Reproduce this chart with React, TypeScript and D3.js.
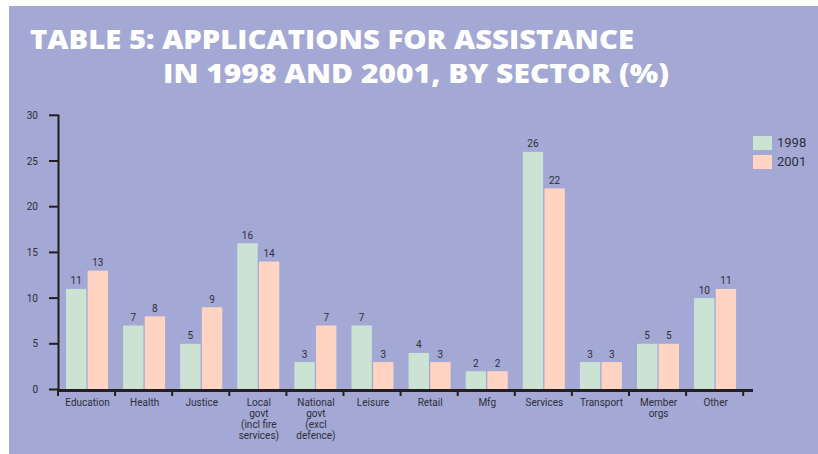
import React from "react";
import * as d3 from "d3";

const categories = [
  ["Education"],
  ["Health"],
  ["Justice"],
  ["Local", "govt", "(incl fire", "services)"],
  ["National", "govt", "(excl", "defence)"],
  ["Leisure"],
  ["Retail"],
  ["Mfg"],
  ["Services"],
  ["Transport"],
  ["Member", "orgs"],
  ["Other"],
];
const seriesNames = ["1998", "2001"];
const values1998 = [11, 7, 5, 16, 3, 7, 4, 2, 26, 3, 5, 10];
const values2001 = [13, 8, 9, 14, 7, 3, 3, 2, 22, 3, 5, 11];
const yTicks = [0, 5, 10, 15, 20, 25, 30];
const titleLines = ["TABLE 5: APPLICATIONS FOR ASSISTANCE", "IN 1998 AND 2001, BY SECTOR (%)"];

const BG = "#a3a8d5";
const GREEN = "#cce3d4";
const PEACH = "#ffd4c2";
const AXIS = "#231f20";
const TEXT = "#2e2e38";
const FONT = "Roboto, 'Open Sans', sans-serif";

export default function App() {
  const W = 818, H = 454;
  const keys = categories.map((c) => c.join(" "));
  const x = d3.scaleBand<string>().domain(keys).range([58, 58 + 12 * 57.1]).paddingInner(0).paddingOuter(0);
  const xs = d3.scaleBand<string>().domain(seriesNames).range([8, 50]).paddingInner(0.06);
  const y = d3.scaleLinear().domain([0, 30]).range([389.5, 115.3]);
  const colors = [GREEN, PEACH];
  const series = [values1998, values2001];
  const bw = x.bandwidth();

  return (
    <svg width={W} height={H} style={{ display: "block", position: "absolute", left: 0, top: 0 }}>
      <rect x={0} y={0} width={W} height={H} fill="#ffffff" />
      <rect x={9} y={6} width={W - 9} height={H - 6} fill={BG} />
      {/* title */}
      <text x={30} y={49} fill="#fff" fontFamily="'Open Sans', sans-serif" fontWeight={800} fontSize={27}
        textLength={604} lengthAdjust="spacingAndGlyphs">{titleLines[0]}</text>
      <text x={163} y={83} fill="#fff" fontFamily="'Open Sans', sans-serif" fontWeight={800} fontSize={27}
        textLength={506} lengthAdjust="spacingAndGlyphs">{titleLines[1]}</text>

      {/* bars */}
      {series.map((vals, si) =>
        vals.map((v, i) => {
          const bx = (x(keys[i]) as number) + (xs(seriesNames[si]) as number);
          return (
            <g key={`${si}-${i}`}>
              <rect x={bx} y={y(v)} width={xs.bandwidth()} height={y(0) - y(v)} fill={colors[si]} />
              <text x={bx + xs.bandwidth() / 2} y={y(v) - 4.5} textAnchor="middle" fontFamily={FONT}
                fontSize={10} fill={TEXT}>{v}</text>
            </g>
          );
        })
      )}

      {/* y axis */}
      <line x1={58.5} x2={58.5} y1={114.5} y2={391} stroke={AXIS} strokeWidth={2} />
      {yTicks.map((t) => (
        <g key={t}>
          <line x1={49} x2={58} y1={y(t)} y2={y(t)} stroke={AXIS} strokeWidth={2} />
          <text x={38} y={y(t) + 3.5} textAnchor="end" fontFamily={FONT} fontSize={10} fill={TEXT}>{t}</text>
        </g>
      ))}

      {/* x axis */}
      <line x1={57.5} x2={753} y1={390.5} y2={390.5} stroke={AXIS} strokeWidth={3} />
      {d3.range(13).map((i) => {
        const tx = 58 + i * bw;
        return <line key={i} x1={tx} x2={tx} y1={390} y2={396} stroke={AXIS} strokeWidth={2} />;
      })}
      {categories.map((lines, i) => (
        <text key={i} textAnchor="middle" fontFamily={FONT} fontSize={10} fill={TEXT}>
          {lines.map((l, j) => (
            <tspan key={j} x={(x(keys[i]) as number) + bw / 2 + 1} y={406 + j * 11}>{l}</tspan>
          ))}
        </text>
      ))}

      {/* legend */}
      {seriesNames.map((s, i) => (
        <g key={s}>
          <rect x={753} y={136 + i * 19} width={19} height={14} fill={colors[i]} />
          <text x={777} y={147 + i * 19} fontFamily={FONT} fontSize={13} fill={TEXT}>{s}</text>
        </g>
      ))}
    </svg>
  );
}
